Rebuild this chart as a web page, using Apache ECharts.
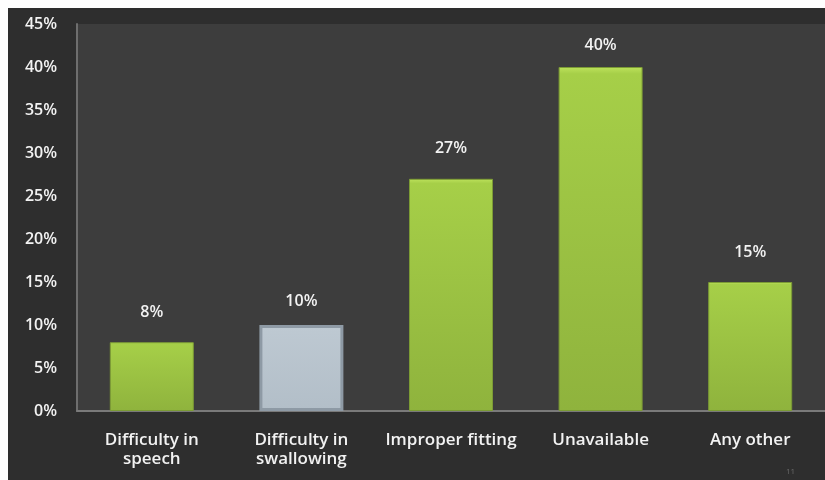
<!DOCTYPE html>
<html>
<head>
<meta charset="utf-8">
<script src="https://cdn.jsdelivr.net/npm/echarts@6/dist/echarts.min.js"></script>
<style>
  html, body { margin: 0; padding: 0; background: #ffffff; }
  #chart { width: 825px; height: 480px; }
</style>
</head>
<body>
<div id="chart"></div>
<script>
// Reasons reported, share of respondents (%)
const categories = ['Difficulty in\nspeech', 'Difficulty in\nswallowing', 'Improper fitting', 'Unavailable', 'Any other'];
const values = [8, 10, 27, 40, 15];
const yTicks = { min: 0, max: 45, interval: 5 };

const font = '"Open Sans", "DejaVu Sans", sans-serif';

const greenFill = new echarts.graphic.LinearGradient(0, 0, 0, 1, [
  { offset: 0, color: '#bde25c' },
  { offset: 0.02, color: '#a6cf48' },
  { offset: 1, color: '#8fb33d' }
]);
const greyFill = new echarts.graphic.LinearGradient(0, 0, 0, 1, [
  { offset: 0, color: '#bec9d2' },
  { offset: 1, color: '#b2bec8' }
]);

const seriesData = values.map((v, i) => {
  const item = { value: v };
  if (i === 1) {
    // highlighted bar: grey with a bevel-like frame
    item.itemStyle = { color: greyFill, borderColor: '#8e9aa5', borderWidth: 3 };
    item.label = { distance: 16 };
  } else {
    item.itemStyle = { color: greenFill, borderColor: '#7c9b35', borderWidth: 1 };
  }
  // tallest bar keeps its label closer to the top
  if (v === 40) item.label = { distance: 14 };
  return item;
});

const chart = echarts.init(document.getElementById('chart'), null, { renderer: 'canvas' });
chart.setOption({
  animation: false,
  backgroundColor: 'transparent',
  graphic: [
    { type: 'rect', z: -10, shape: { x: 8, y: 8, width: 817, height: 472 }, style: { fill: '#2e2e2e' } },
    { type: 'text', left: 786, top: 468, style: { text: '11', fill: '#6a6a6a', font: '8px ' + font } }
  ],
  grid: {
    left: 77, right: 0, top: 24, bottom: 69,
    show: true, backgroundColor: '#3d3d3d', borderWidth: 0
  },
  xAxis: {
    type: 'category',
    data: categories,
    axisLine: { lineStyle: { color: '#7a7a7a', width: 2 } },
    axisTick: { show: false },
    axisLabel: {
      color: '#f2f2f2', fontFamily: font, fontWeight: 600, fontSize: 17,
      lineHeight: 19, margin: 20, interval: 0
    }
  },
  yAxis: {
    type: 'value',
    min: yTicks.min, max: yTicks.max, interval: yTicks.interval,
    axisLine: { show: true, lineStyle: { color: '#6e6e6e', width: 2 } },
    axisTick: { show: false },
    splitLine: { show: false },
    axisLabel: {
      color: '#f2f2f2', fontFamily: font, fontWeight: 600, fontSize: 16,
      margin: 20, formatter: '{value}%'
    }
  },
  series: [{
    type: 'bar',
    data: seriesData,
    barWidth: 84,
    label: {
      show: true, position: 'top', distance: 22,
      color: '#f2f2f2', fontFamily: font, fontWeight: 600, fontSize: 16,
      formatter: '{c}%'
    }
  }]
});
</script>
</body>
</html>
